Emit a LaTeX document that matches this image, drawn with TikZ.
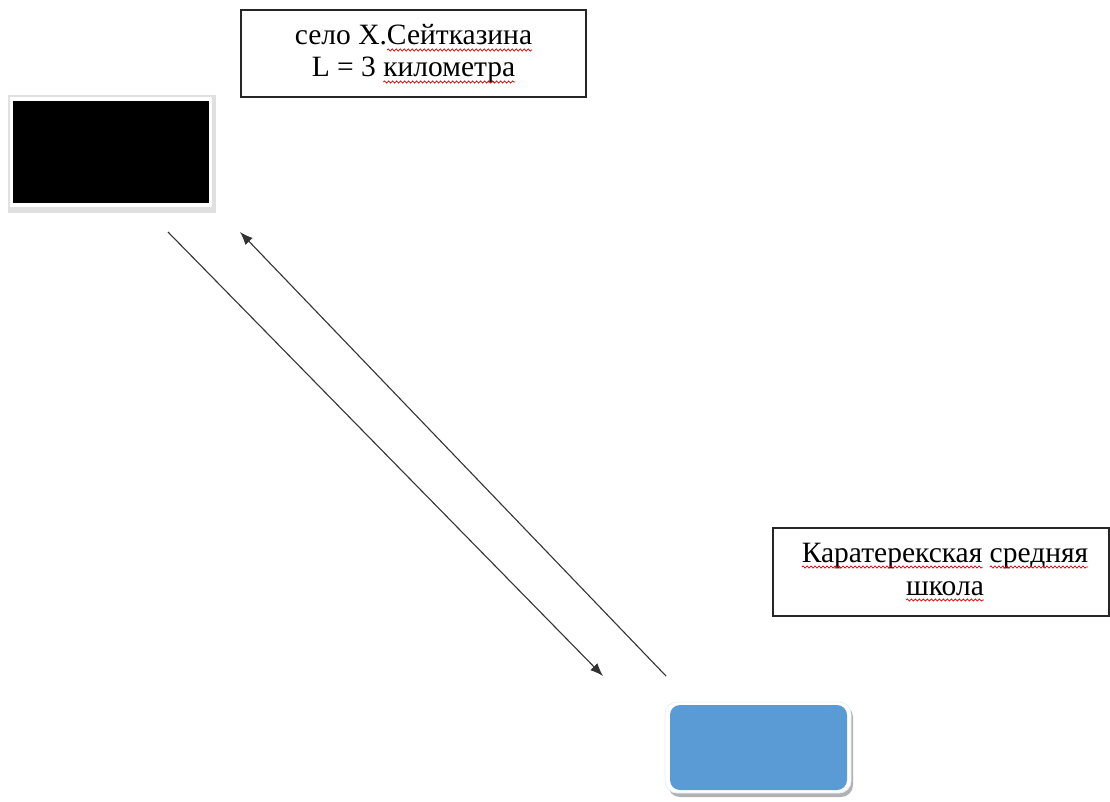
\documentclass[tikz,border=0pt]{standalone}
\usepackage{fontspec}
\setmainfont{Liberation Serif}
\usetikzlibrary{arrows.meta,decorations.pathmorphing}
\definecolor{schoolblue}{HTML}{5B9BD5}
\tikzset{
  labelbox/.style={draw=black!85, line width=1.3pt, fill=white, inner sep=0pt},
  words/.style={inner sep=0pt, outer sep=0pt, font=\fontsize{29.5}{32.5}\selectfont},
  route/.style={draw=black!80, line width=1.1pt},
  routetip/.style={-{Latex[length=13pt,width=10pt]}},
  spellwave/.style={draw=red!85!black, line width=0.7pt, decorate,
    decoration={snake, amplitude=1.1pt, segment length=4pt}}
}
\begin{document}
\begin{tikzpicture}[x=1pt,y=-1pt]
\useasboundingbox (0,0) rectangle (1110,802);
% top label
\node[labelbox, minimum width=345pt, minimum height=87pt] (village) at (413.5,53.5) {};
\node[words, anchor=base] (v1) at (413.5,45) {\phantom{село Х.Сейтказина}};
\node[words, anchor=base west] (v1a) at (v1.base west) {село Х.};
\node[words, anchor=base east] (v1b) at (v1.base east) {Сейтказина};
\node[words, anchor=base] (v2) at (413.5,77) {\phantom{L = 3 километра}};
\node[words, anchor=base west] (v2a) at (v2.base west) {L = 3};
\node[words, anchor=base east] (v2b) at (v2.base east) {километра};
\draw[spellwave] ([yshift=-5pt]v1b.base west) -- ([yshift=-5pt]v1b.base east);
\draw[spellwave] ([yshift=-5pt]v2b.base west) -- ([yshift=-5pt]v2b.base east);
% black rectangle (village marker)
\fill[black!12] (8,95) rectangle (216,213);
\fill[white] (10,97) rectangle (212,207);
\node[fill=black, minimum width=196pt, minimum height=102pt, inner sep=0pt] (home) at (111,152) {};
% school label
\node[labelbox, minimum width=336pt, minimum height=88pt] (schoolname) at (941,572) {};
\node[words, anchor=base] (s1) at (945,562) {\phantom{Каратерекская средняя}};
\node[words, anchor=base west] (s1a) at (s1.base west) {Каратерекская};
\node[words, anchor=base east] (s1b) at (s1.base east) {средняя};
\node[words, anchor=base] (s2) at (945,595) {школа};
\draw[spellwave] ([yshift=-5pt]s1a.base west) -- ([yshift=-5pt]s1a.base east);
\draw[spellwave] ([yshift=-5pt]s1b.base west) -- ([yshift=-5pt]s1b.base east);
\draw[spellwave] ([yshift=-5pt]s2.base west) -- ([yshift=-5pt]s2.base east);
% school blue box
\fill[black!30, rounded corners=12pt] (668,705) rectangle (853,797);
\draw[white!85!schoolblue, fill=white, line width=0.8pt, rounded corners=12pt] (665,702) rectangle (851,793);
\node[fill=schoolblue, rounded corners=10pt, minimum width=177pt, minimum height=85pt, inner sep=0pt] (school) at (758.5,747.5) {};
% routes
\coordinate (a1) at (168,232);
\coordinate (a2) at (603,676);
\coordinate (b1) at (666,676);
\coordinate (b2) at (240,232);
\draw[route, routetip] (a1) -- (a2);
\draw[route, routetip] (b1) -- (b2);
\end{tikzpicture}
\end{document}
